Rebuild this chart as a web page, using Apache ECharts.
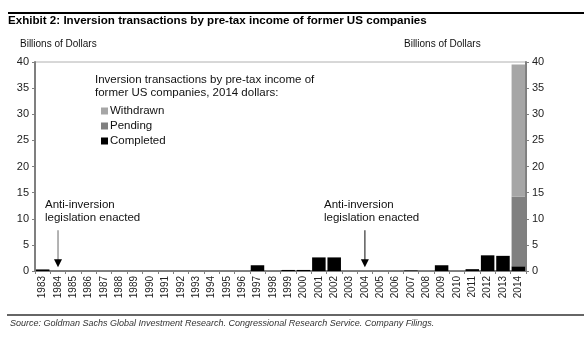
<!DOCTYPE html>
<html>
<head>
<meta charset="utf-8">
<script src="https://cdn.jsdelivr.net/npm/echarts@6/dist/echarts.min.js"></script>
<style>
  html, body { margin: 0; padding: 0; background: #fff; }
  #chart { width: 584px; height: 341px; }
</style>
</head>
<body>
<div id="chart"></div>
<script>
// Inversion transactions by pre-tax income of former US companies (billions, 2014 dollars)
const years = ['1983','1984','1985','1986','1987','1988','1989','1990','1991','1992','1993','1994','1995','1996','1997','1998','1999','2000','2001','2002','2003','2004','2005','2006','2007','2008','2009','2010','2011','2012','2013','2014'];
const completed = [0.3,0,0,0,0,0,0,0,0,0,0,0,0,0,1.1,0,0.2,0.2,2.6,2.6,0,0,0,0,0.1,0,1.1,0,0.35,3.0,2.9,0.9];
const pending   = [0,0,0,0,0,0,0,0,0,0,0,0,0,0,0,0,0,0,0,0,0,0,0,0,0,0,0,0,0,0,0,13.3];
const withdrawn = [0,0,0,0,0,0,0,0,0,0,0,0,0,0,0,0,0,0,0,0,0,0,0,0,0,0,0,0,0,0,0,25.3];
const yTicks = { min: 0, max: 40, interval: 5 };
const legislationYears = ['1984', '2004'];

const chart = echarts.init(document.getElementById('chart'), null, { renderer: 'canvas' });
const font = 'Liberation Sans, Arial, sans-serif';

const yAxisBase = (pos) => ({
  type: 'value', position: pos, min: yTicks.min, max: yTicks.max, interval: yTicks.interval,
  axisLine: { show: true, lineStyle: { color: '#7f7f7f', width: 2 } },
  axisTick: { show: true, length: 3, lineStyle: { color: '#7f7f7f' } },
  axisLabel: { fontSize: 11, color: '#222', fontFamily: font, margin: 6 },
  splitLine: { show: false }
});

chart.setOption({
  animation: false,
  grid: { left: 35, right: 58, top: 62, bottom: 70, show: true, borderColor: '#b0b0b0', borderWidth: 1 },
  legend: {
    orient: 'vertical', left: 96, top: 100, itemWidth: 7, itemHeight: 7, itemGap: 3,
    icon: 'rect', data: ['Withdrawn', 'Pending', 'Completed'],
    textStyle: { fontSize: 11.5, color: '#111', fontFamily: font, padding: [0, 0, 0, -3] }
  },
  xAxis: {
    type: 'category', data: years, boundaryGap: true,
    axisLine: { lineStyle: { color: '#7f7f7f', width: 2 } },
    axisTick: { show: true, length: 3, interval: 0, lineStyle: { color: '#7f7f7f' } },
    axisLabel: { rotate: 90, interval: 0, fontSize: 10, color: '#222', fontFamily: font, margin: 5 }
  },
  yAxis: [yAxisBase('left'), yAxisBase('right')],
  series: [
    { name: 'Completed', type: 'bar', stack: 'total', data: completed, barCategoryGap: '12%',
      itemStyle: { color: '#000000' } },
    { name: 'Pending', type: 'bar', stack: 'total', data: pending,
      itemStyle: { color: '#808080' } },
    { name: 'Withdrawn', type: 'bar', stack: 'total', data: withdrawn,
      itemStyle: { color: '#a6a6a6' } }
  ]
});

// Annotations and page furniture
const graphics = [
  { type: 'line', shape: { x1: 8, y1: 13, x2: 584, y2: 13 }, style: { stroke: '#000', lineWidth: 2 } },
  { type: 'text', left: 8, top: 15, style: { text: 'Exhibit 2: Inversion transactions by pre-tax income of former US companies',
      font: 'bold 11.6px ' + font, fill: '#000' } },
  { type: 'text', left: 20, top: 39, style: { text: 'Billions of Dollars', font: '10px ' + font, fill: '#111' } },
  { type: 'text', left: 404, top: 39, style: { text: 'Billions of Dollars', font: '10px ' + font, fill: '#111' } },
  { type: 'text', left: 95, top: 73, style: { text: 'Inversion transactions by pre-tax income of\nformer US companies, 2014 dollars:',
      font: '11.5px ' + font, fill: '#111', lineHeight: 13.5 } },
  { type: 'line', shape: { x1: 7, y1: 315, x2: 584, y2: 315 }, style: { stroke: '#333', lineWidth: 1.5 } },
  { type: 'text', left: 10, top: 319, style: { text: 'Source: Goldman Sachs Global Investment Research. Congressional Research Service. Company Filings.',
      font: 'italic 9px ' + font, fill: '#333' } }
];

const textX = [45, 324];
legislationYears.forEach((yr, i) => {
  const top = chart.convertToPixel({ xAxisIndex: 0, yAxisIndex: 0 }, [yr, 7.8]);
  const tip = chart.convertToPixel({ xAxisIndex: 0, yAxisIndex: 0 }, [yr, 0.7]);
  const x = top[0];
  graphics.push(
    { type: 'text', left: textX[i], top: 198, style: { text: 'Anti-inversion\nlegislation enacted',
        font: '11.5px ' + font, fill: '#111', lineHeight: 13 } },
    { type: 'line', shape: { x1: x, y1: top[1], x2: x, y2: tip[1] - 6 },
      style: { stroke: i === 0 ? '#808080' : '#333', lineWidth: 1.2 } },
    { type: 'polygon', shape: { points: [[x - 4, tip[1] - 8], [x + 4, tip[1] - 8], [x, tip[1]]] },
      style: { fill: '#000' } }
  );
});
chart.setOption({ graphic: graphics });
</script>
</body>
</html>
